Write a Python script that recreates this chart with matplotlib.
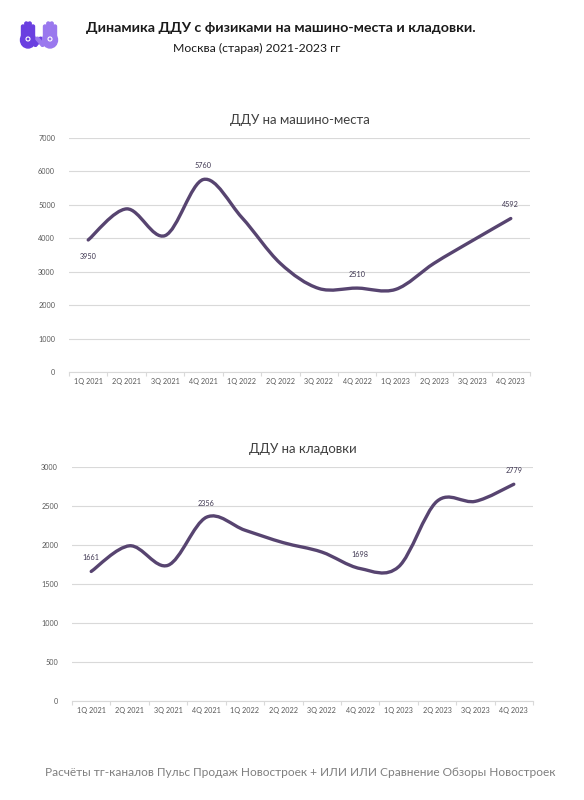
import numpy as np
import matplotlib.pyplot as plt
from matplotlib.path import Path
from matplotlib.patches import PathPatch, Ellipse, FancyBboxPatch
from matplotlib.transforms import Affine2D

plt.rcParams["font.family"] = ["Lato", "DejaVu Sans"]

quarters = ["1Q 2021", "2Q 2021", "3Q 2021", "4Q 2021", "1Q 2022", "2Q 2022",
            "3Q 2022", "4Q 2022", "1Q 2023", "2Q 2023", "3Q 2023", "4Q 2023"]

parking = [3950, 4880, 4080, 5760, 4620, 3250, 2500, 2510, 2470, 3250, 3930, 4592]
storage = [1661, 1990, 1740, 2356, 2190, 2030, 1910, 1698, 1720, 2560, 2560, 2779]

parking_labels = {0: "below", 3: "above", 7: "above", 11: "above"}
storage_labels = {0: "above", 3: "above", 7: "above", 11: "above"}

LINE = "#574470"
GRID = "#d9d9d9"
TICK = "#595959"


def smooth_path(x, y):
    # Excel-style smoothed line: Catmull-Rom turned into cubic Bezier pieces
    pts = np.column_stack([x, y]).astype(float)
    verts = [pts[0]]
    codes = [Path.MOVETO]
    n = len(pts)
    for i in range(n - 1):
        p0 = pts[i - 1] if i > 0 else pts[i]
        p1 = pts[i]
        p2 = pts[i + 1]
        p3 = pts[i + 2] if i + 2 < n else pts[i + 1]
        c1 = p1 + (p2 - p0) / 6
        c2 = p2 - (p3 - p1) / 6
        verts += [c1, c2, p2]
        codes += [Path.CURVE4] * 3
    return Path(verts, codes)


def draw_panel(ax, values, labels, title, ymax, step):
    x = np.arange(len(values))
    ax.add_patch(PathPatch(smooth_path(x, values), facecolor="none",
                           edgecolor=LINE, lw=2.4, capstyle="round", zorder=3))
    ax.set_xlim(-0.5, len(values) - 0.5)
    ax.set_ylim(0, ymax)
    ax.set_yticks(np.arange(0, ymax + 1, step))
    ax.set_xticks(x)
    ax.set_xticklabels(quarters)
    ax.set_xticks(np.arange(-0.5, len(values)), minor=True)
    ax.tick_params(axis="x", which="major", length=0, labelsize=5.2,
                   labelcolor=TICK, pad=4)
    ax.tick_params(axis="x", which="minor", length=3, color=GRID, width=0.8)
    ax.tick_params(axis="y", length=0, labelsize=5.2, labelcolor=TICK, pad=10)
    ax.grid(axis="y", color=GRID, lw=0.8)
    ax.set_axisbelow(True)
    for s in ["top", "right", "left"]:
        ax.spines[s].set_visible(False)
    ax.spines["bottom"].set_color(GRID)
    ax.spines["bottom"].set_linewidth(0.8)
    ax.set_title(title, fontsize=9.5, color="#404040", pad=10)
    for i, pos in labels.items():
        dy = -12 if pos == "below" else 10
        ax.annotate(str(values[i]), (x[i], values[i]), xytext=(0, dy),
                    textcoords="offset points", ha="center", va="center",
                    fontsize=5.2, color="#3d3550")


fig = plt.figure(figsize=(5.84, 8), dpi=100)

ax1 = fig.add_axes([69 / 584, 1 - 372 / 800, 461 / 584, 234 / 800])
draw_panel(ax1, parking, parking_labels, "ДДУ на машино-места", 7000, 1000)

ax2 = fig.add_axes([72 / 584, 1 - 701 / 800, 461 / 584, 234 / 800])
draw_panel(ax2, storage, storage_labels, "ДДУ на кладовки", 3000, 500)

fig.text(281 / 584, 1 - 28 / 800, "Динамика ДДУ с физиками на машино-места и кладовки.",
         ha="center", va="center", fontsize=10.3, fontweight="bold", color="#1a1a1a")
fig.text(257 / 584, 1 - 48 / 800, "Москва (старая) 2021-2023 гг",
         ha="center", va="center", fontsize=8.8, color="#1a1a1a")
fig.text(300 / 584, 1 - 773 / 800,
         "Расчёты тг-каналов Пульс Продаж Новостроек + ИЛИ ИЛИ Сравнение Обзоры Новостроек",
         ha="center", va="center", fontsize=8.6, color="#7f7f7f")

# logo: two purple hands
logo = fig.add_axes([16 / 584, 1 - 50 / 800, 46 / 584, 34 / 800])
logo.set_xlim(0, 46)
logo.set_ylim(0, 34)
logo.axis("off")
for cx, col, side in [(12, "#6a3fe0", 1), (34, "#9a78ee", -1)]:
    logo.add_patch(Ellipse((cx, 10), 15, 16, color=col))
    for fx, h in zip([-5, -1.7, 1.7, 5], [13, 16, 16, 13]):
        xf = cx + fx * side
        logo.add_patch(FancyBboxPatch((xf - 1.5, 12), 3.0, h,
                                      boxstyle="round,pad=0,rounding_size=1.5",
                                      color=col))
    thumb = FancyBboxPatch((cx + 6.5 * side - 1.5, 4), 3.0, 11,
                           boxstyle="round,pad=0,rounding_size=1.5", color=col)
    thumb.set_transform(Affine2D().rotate_deg_around(cx + 6.5 * side, 4, -40 * side)
                        + logo.transData)
    logo.add_patch(thumb)
    logo.add_patch(Ellipse((cx, 11), 4, 4, fill=False, ec="white", lw=0.8))

fig.savefig("out.png", dpi=100)
